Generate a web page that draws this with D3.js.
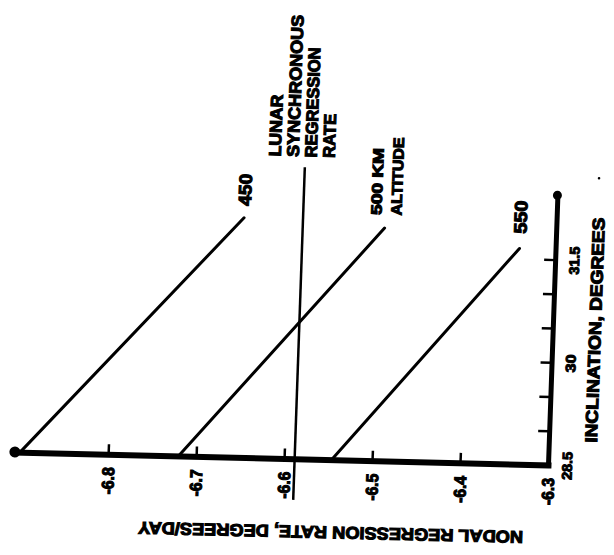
<!DOCTYPE html>
<html>
<head>
<meta charset="utf-8">
<script src="https://cdn.jsdelivr.net/npm/d3@7"></script>
<style>
  html, body { margin: 0; padding: 0; background: #fff; }
  svg text { font-family: "Liberation Sans", Arial, sans-serif; font-weight: bold; fill: #000; }
</style>
</head>
<body>
<svg id="chart" width="614" height="555"></svg>
<script>
// ---- data ----
const rateTicks = [-6.8, -6.7, -6.6, -6.5, -6.4, -6.3];
const rateLabels = ["-6.8", "-6.7", "-6.6", "-6.5", "-6.4", "-6.3"];
const inclinationTicks = [28.5, 29, 29.5, 30, 30.5, 31, 31.5];
const inclinationLabels = ["28.5", "", "", "30", "", "", "31.5"];
const altitudes = ["450", "500", "550"];
const startInclination = [28.5, 28.5, 28.5];
const endInclination = [32.0, 31.9, 31.65];
const startRate = [-6.90, -6.72, -6.546];
const endRate = [-6.655, -6.495, -6.341];
const lunarRate = -6.588;
const lunarInclination = [27.9, 32.76];
const lunarLabel = ["LUNAR", "SYNCHRONOUS", "REGRESSION", "RATE"];
const rateDomain = [-6.3, -6.906];
const inclinationDomain = [28.5, 32.44];
const xTitle = "INCLINATION, DEGREES";
const yTitle = "NODAL REGRESSION RATE, DEGREES/DAY";

// ---- layout ----
const px = 548, py = 465;
const a = 1.4 * Math.PI / 180, b = 2.0 * Math.PI / 180;
const svg = d3.select("#chart");
svg.append("rect").attr("width", 614).attr("height", 555).attr("fill", "#fff");
const g = svg.append("g")
  .attr("transform", `translate(${px},${py}) matrix(${Math.cos(a)},${Math.sin(a)},${-Math.sin(b)},${Math.cos(b)},0,0) translate(${-px},${-py})`);

const x = d3.scaleLinear().domain(rateDomain).range([px, px - 0.606 * 880]);
const y = d3.scaleLinear().domain(inclinationDomain).range([py, py - 3.94 * 68.5]);

// bottom (rate) axis
const gx = g.append("g").attr("transform", `translate(0,${py})`)
  .call(d3.axisBottom(x).tickValues(rateTicks).tickFormat((d, i) => rateLabels[i])
    .tickSizeInner(-10).tickSizeOuter(0).tickPadding(0));
gx.attr("font-family", null).attr("font-size", null);
gx.select(".domain").attr("stroke", "#000").attr("stroke-width", 6).attr("stroke-linecap", "square");
gx.selectAll(".tick line").attr("stroke", "#000").attr("stroke-width", 2.5);
gx.selectAll(".tick text")
  .attr("transform", "rotate(-90)").attr("x", -13).attr("y", 0).attr("dy", "0.36em")
  .attr("text-anchor", "end").attr("font-size", 17).attr("stroke", "#000").attr("stroke-width", 1.1)
  .attr("textLength", 27).attr("lengthAdjust", "spacingAndGlyphs");

// right (inclination) axis
const gy = g.append("g").attr("transform", `translate(${px},0)`)
  .call(d3.axisRight(y).tickValues(inclinationTicks).tickFormat((d, i) => inclinationLabels[i])
    .tickSizeInner(-11).tickSizeOuter(0).tickPadding(0));
gy.attr("font-family", null).attr("font-size", null);
gy.select(".domain").attr("stroke", "#000").attr("stroke-width", 5).attr("stroke-linecap", "square");
gy.selectAll(".tick line").attr("stroke", "#000").attr("stroke-width", 2.5);
gy.selectAll(".tick text")
  .attr("transform", "rotate(-90)").attr("x", 0).attr("y", 19).attr("dy", "0.36em")
  .attr("text-anchor", "middle").attr("font-size", 14).attr("stroke", "#000").attr("stroke-width", 1)
  .each(function(d, i) {
    const t = inclinationLabels[i];
    if (t) d3.select(this).attr("textLength", t.length === 2 ? 18 : 28).attr("lengthAdjust", "spacingAndGlyphs");
  });

// axis end blobs
g.append("circle").attr("cx", x(rateDomain[1])).attr("cy", py).attr("r", 5.5).attr("fill", "#000");
g.append("circle").attr("cx", px).attr("cy", y(inclinationDomain[1])).attr("r", 4.5).attr("fill", "#000");

// altitude lines
g.selectAll("line.alt").data(altitudes).join("line").attr("class", "alt")
  .attr("x1", (d, i) => x(startRate[i])).attr("y1", (d, i) => y(startInclination[i]))
  .attr("x2", (d, i) => x(endRate[i])).attr("y2", (d, i) => y(endInclination[i]))
  .attr("stroke", "#000").attr("stroke-width", 3).attr("stroke-linecap", "round");

// lunar synchronous line
g.append("line")
  .attr("x1", x(lunarRate)).attr("x2", x(lunarRate))
  .attr("y1", y(lunarInclination[0])).attr("y2", y(lunarInclination[1]))
  .attr("stroke", "#000").attr("stroke-width", 2.5);

function rotText(tx, ty, txt, size, len, anchor) {
  const t = g.append("text")
    .attr("transform", `translate(${tx},${ty}) rotate(-90)`)
    .attr("dy", "0.36em").attr("text-anchor", anchor || "start")
    .attr("font-size", size).attr("stroke", "#000").attr("stroke-width", 1.1)
    .text(txt);
  if (len) t.attr("textLength", len).attr("lengthAdjust", "spacingAndGlyphs");
  return t;
}

// altitude labels
rotText(x(endRate[0]), y(endInclination[0]) - 12, altitudes[0], 18, 32);
rotText(x(endRate[2]), y(endInclination[2]) - 15, altitudes[2], 18, 33);
rotText(x(endRate[1]) - 9, y(endInclination[1]) - 13, altitudes[1] + " KM", 15, 67);
rotText(x(endRate[1]) + 11, y(endInclination[1]) - 13, "ALTITUDE", 15, 78);

// lunar label block
const lunarOffsets = [-30.6, -12.6, 5.4, 23.4];
const lunarLens = [62, 142, 110, 44];
lunarLabel.forEach((s, i) => {
  rotText(x(lunarRate) + lunarOffsets[i], y(lunarInclination[1]) - 10, s, 17, lunarLens[i]);
});

// axis titles
g.append("text")
  .attr("transform", `translate(333,538) rotate(180)`)
  .attr("dy", "0.36em").attr("text-anchor", "middle")
  .attr("font-size", 17).attr("stroke", "#000").attr("stroke-width", 1.1)
  .attr("textLength", 385).attr("lengthAdjust", "spacingAndGlyphs")
  .text(yTitle);
rotText(590, 329, xTitle, 17, 225, "middle");

// stray mark
g.append("circle").attr("cx", 589).attr("cy", 177).attr("r", 1.3).attr("fill", "#000");
</script>
</body>
</html>
